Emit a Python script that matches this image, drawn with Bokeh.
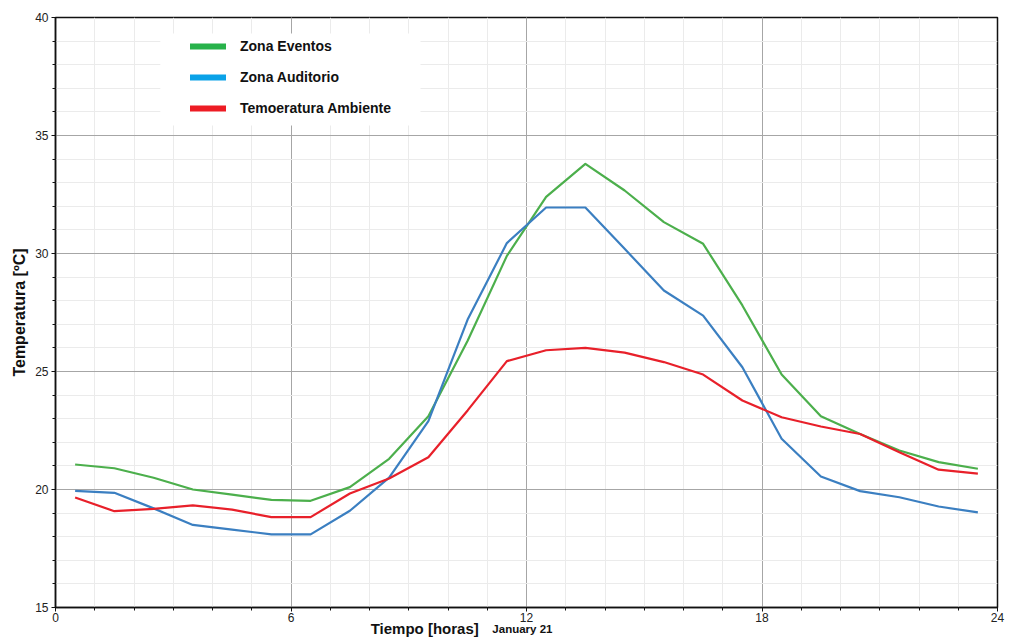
import math
from bokeh.plotting import figure
from bokeh.models import (SingleIntervalTicker, Legend, LegendItem, Label,
                          BoxAnnotation, Range1d)
from bokeh.embed import file_html
from bokeh.resources import INLINE

hours = [0.5, 1.5, 2.5, 3.5, 4.5, 5.5, 6.5, 7.5, 8.5, 9.5, 10.5, 11.5,
         12.5, 13.5, 14.5, 15.5, 16.5, 17.5, 18.5, 19.5, 20.5, 21.5, 22.5, 23.5]

zona_eventos = [21.06, 20.9, 20.5, 20.0, 19.78, 19.56, 19.52, 20.1, 21.3, 23.1,
                26.3, 29.9, 32.4, 33.8, 32.67, 31.33, 30.41, 27.8, 24.87, 23.1,
                22.35, 21.65, 21.16, 20.88]

zona_auditorio = [19.94, 19.86, 19.2, 18.5, 18.3, 18.1, 18.1, 19.1, 20.5, 22.9,
                  27.2, 30.44, 31.95, 31.95, 30.2, 28.43, 27.37, 25.18, 22.15, 20.55,
                  19.93, 19.67, 19.28, 19.03]

temp_ambiente = [19.66, 19.08, 19.18, 19.33, 19.15, 18.83, 18.83, 19.83, 20.47, 21.37,
                 23.35, 25.44, 25.9, 26.0, 25.8, 25.4, 24.87, 23.77, 23.06, 22.67,
                 22.35, 21.58, 20.84, 20.67]

series_names = ["Zona Eventos", "Zona Auditorio", "Temoeratura Ambiente"]
line_colors = ["#4caf4c", "#3b7fc1", "#e8202a"]
legend_colors = ["#27b24a", "#0aa2e8", "#ed1c24"]

FONT = "Liberation Sans"

p = figure(width=1016, height=641, x_range=Range1d(0, 24), y_range=Range1d(15, 40),
           output_backend="svg", toolbar_location=None)
p.min_border_left = 55
p.min_border_right = 19
p.min_border_top = 17
p.min_border_bottom = 34
p.background_fill_color = "white"
p.border_fill_color = "white"
p.outline_line_color = "#111111"
p.outline_line_width = 1.5

p.xaxis.ticker = SingleIntervalTicker(interval=6, num_minor_ticks=6)
p.yaxis.ticker = SingleIntervalTicker(interval=5, num_minor_ticks=5)
p.xgrid.ticker = p.xaxis.ticker
p.ygrid.ticker = p.yaxis.ticker

for g in (p.xgrid, p.ygrid):
    g.grid_line_color = "#a6a6a6"
    g.grid_line_width = 1
    g.minor_grid_line_color = "#ebebeb"
    g.minor_grid_line_width = 1

for ax in (p.xaxis, p.yaxis):
    ax.axis_line_color = "#111111"
    ax.axis_line_width = 1.5
    ax.major_tick_out = 4
    ax.major_tick_in = 0
    ax.minor_tick_out = 3
    ax.minor_tick_in = 0
    ax.major_tick_line_color = "#111111"
    ax.minor_tick_line_color = "#111111"
    ax.major_label_text_font = FONT
    ax.major_label_text_font_size = "12px"
    ax.major_label_text_color = "#222222"
    ax.major_label_standoff = 3
p.xaxis.major_label_standoff = 1

p.yaxis.axis_label = "Temperatura [ºC]"
p.yaxis.axis_label_text_font = FONT
p.yaxis.axis_label_text_font_style = "bold"
p.yaxis.axis_label_text_font_size = "16px"
p.yaxis.axis_label_text_color = "#111111"
p.yaxis.axis_label_standoff = 4

data = [zona_eventos, zona_auditorio, temp_ambiente]
for vals, c in zip(data, line_colors):
    p.line(hours, vals, line_color=c, line_width=2.2, line_join="round")

# white panel behind the legend
p.add_layout(BoxAnnotation(left=2.67, right=9.3, top=39.32, bottom=35.42,
                           fill_color="white", fill_alpha=1.0, line_alpha=0))

items = []
for name, c in zip(series_names, legend_colors):
    r = p.line([math.nan], [math.nan], line_color=c, line_width=6, line_cap="round")
    items.append(LegendItem(label=name, renderers=[r]))

legend = Legend(items=items, location=(127, 481))
legend.background_fill_alpha = 0
legend.border_line_alpha = 0
legend.padding = 8
legend.spacing = 11
legend.glyph_width = 36
legend.glyph_height = 20
legend.label_height = 20
legend.label_standoff = 14
legend.label_text_font = FONT
legend.label_text_font_style = "bold"
legend.label_text_font_size = "14px"
legend.label_text_color = "#111111"
p.add_layout(legend, "center")

# x axis titles: placed in side panels so the frame does not clip them;
# their position comes from the data scales.
p.add_layout(Label(x=8.03, y=14.11, text="Tiempo [horas]", text_baseline="middle",
                   text_font=FONT, text_font_style="bold",
                   text_font_size="15px", text_color="#111111"), "below")
p.add_layout(Label(x=11.13, y=14.08, text="January 21", text_baseline="middle",
                   text_font=FONT, text_font_style="bold",
                   text_font_size="11.5px", text_color="#111111"), "above")

open("out.html", "w").write(file_html(p, INLINE))
